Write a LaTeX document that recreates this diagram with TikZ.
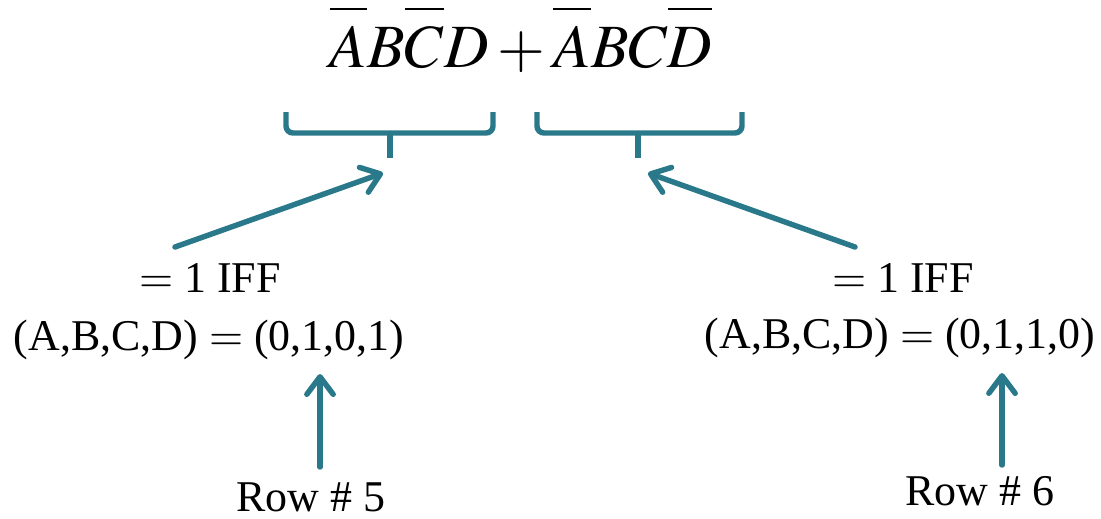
\documentclass[tikz,border=0pt]{standalone}
\usepackage{mathptmx}
\usepackage{fontspec}
\setmainfont{Liberation Serif}
\usepackage{xcolor}
\usetikzlibrary{arrows.meta}

\definecolor{braceteal}{RGB}{42,121,138}
\newcommand{\notvar}[1]{\overline{\rule{0pt}{0.8em}#1}}

\begin{document}
\begin{tikzpicture}[x=0.02cm,y=-0.02cm,
    brace/.style={draw=braceteal,line width=3.1pt,rounded corners=4pt},
    pointer/.style={draw=braceteal,line width=3.1pt,line cap=round,
      -{Straight Barb[length=10pt,width=15pt,line cap=round,round]}},
    label/.style={anchor=base,inner sep=0pt,font=\fontsize{25}{30}\selectfont}]
  \useasboundingbox (0,0) rectangle (1101,518);

  % The sum of products
  \node[anchor=base,inner sep=0pt,font=\fontsize{35}{42}\selectfont] (sum) at (521,67)
    {$\notvar{A}B\notvar{C}D+\notvar{A}BC\notvar{D}$};

  % Braces under the two terms
  \draw[brace] (286,112) -- (286,133) -- (493,133) -- (493,112);
  \draw[brace] (537,112) -- (537,133) -- (742,133) -- (742,112);
  \draw[brace] (390,133) -- (390,158);
  \draw[brace] (638,133) -- (638,158);

  % Conditions
  \node[label] (iffL) at (210,292) {$=$ 1 IFF};
  \node[label] (tupleL) at (209,350) {(A,B,C,D) $=$ (0,1,0,1)};
  \node[label] (iffR) at (903,292) {$=$ 1 IFF};
  \node[label] (tupleR) at (900,348) {(A,B,C,D) $=$ (0,1,1,0)};

  % Row numbers
  \node[label] (rowL) at (311,511) {Row \# 5};
  \node[label] (rowR) at (980,505) {Row \# 6};

  % Arrows
  \coordinate (tailL) at (175,247);
  \coordinate (headL) at (383,173);
  \coordinate (tailR) at (855,247);
  \coordinate (headR) at (648,173);
  \draw[pointer] (tailL) -- (headL);
  \draw[pointer] (tailR) -- (headR);
  \draw[pointer] (320,467) -- (320,374);
  \draw[pointer] (1002,465) -- (1002,373);
\end{tikzpicture}
\end{document}
